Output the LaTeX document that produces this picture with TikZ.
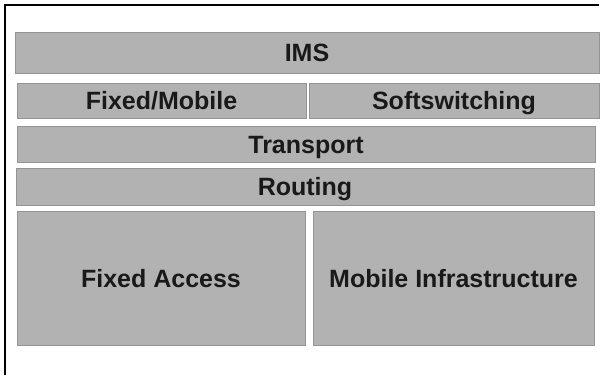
\documentclass[tikz,border=0pt]{standalone}
\usepackage{fontspec}
\setmainfont{Liberation Sans}
\begin{document}
\begin{tikzpicture}[x=1pt,y=-1pt,
  layer/.style={draw=black!42, line width=1pt, fill=black!30, anchor=north west,
    inner sep=0pt, outer sep=0pt, text=black!90, text height=18pt, text depth=0pt,
    font=\fontsize{25}{30}\selectfont\bfseries}]
\useasboundingbox (0,0) rectangle (609,375);
\coordinate (tl) at (5,5);
\coordinate (tr) at (599,5);
\coordinate (bl) at (5,375);
\draw[line width=2pt] (bl) -- (tl) -- (tr);
\node[layer, minimum width=584, minimum height=41] (ims) at (15,32) {IMS};
\node[layer, minimum width=289, minimum height=35] (fm) at (17,83) {Fixed/Mobile};
\node[layer, minimum width=290, minimum height=35] (soft) at (309,83) {Softswitching};
\node[layer, minimum width=578, minimum height=36] (trans) at (17,126) {Transport};
\node[layer, minimum width=578, minimum height=37] (rout) at (16,168) {Routing};
\node[layer, minimum width=288, minimum height=134] (fa) at (17,211) {Fixed Access};
\node[layer, minimum width=281, minimum height=134] (mi) at (313,211) {Mobile Infrastructure};
\end{tikzpicture}
\end{document}
